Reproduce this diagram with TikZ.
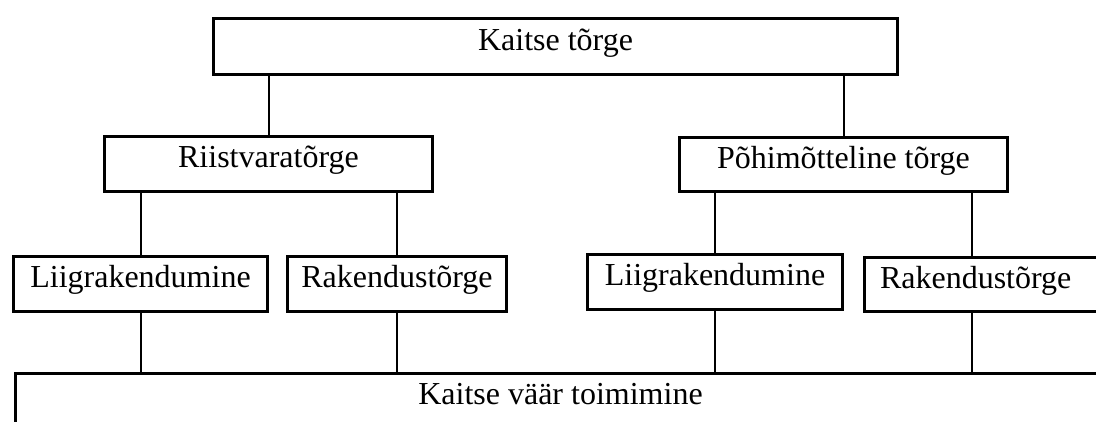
\documentclass[tikz,border=0pt]{standalone}
\usepackage{fontspec}
\setmainfont{Liberation Serif}

\begin{document}
\begin{tikzpicture}[x=1pt,y=-1pt,
  box/.style={draw,line width=3pt,inner sep=0pt,text height=21pt,text depth=14pt,
    font=\fontsize{32}{38}\selectfont},
  link/.style={line width=2pt}]

\clip (0,0) rectangle (1096,421);

\node[box,minimum width=684,minimum height=56] (top) at (555.5,46.5) {Kaitse tõrge};

\node[box,minimum width=328,minimum height=55] (riist) at (268.5,164) {Riistvaratõrge};
\node[box,minimum width=328,minimum height=54] (pohi) at (843.5,164.5) {Põhimõtteline tõrge};

\node[box,minimum width=254,minimum height=55] (lii1) at (140.5,284) {Liigrakendumine};
\node[box,minimum width=219,minimum height=55] (rak1) at (397,284) {Rakendustõrge};
\node[box,minimum width=255,minimum height=55] (lii2) at (715,282) {Liigrakendumine};
\node[box,anchor=west,minimum width=280,minimum height=54,inner xsep=16pt,
  text width=248pt,align=left] (rak2) at (862.5,284.5) {Rakendustõrge};
\coordinate (r2mid) at ([xshift=109.5pt]rak2.west);

\node[box,anchor=north west,minimum width=1091,minimum height=60,text depth=18pt]
  (bottom) at (13.5,371.5) {Kaitse väär toimimine};

\draw[link] (riist.north |- top.south) -- (riist.north);
\draw[link] (pohi.north |- top.south) -- (pohi.north);

\draw[link] (lii1.north |- riist.south) -- (lii1.north);
\draw[link] (rak1.north |- riist.south) -- (rak1.north);
\draw[link] (lii2.north |- pohi.south) -- (lii2.north);
\draw[link] (r2mid |- pohi.south) -- (r2mid |- rak2.north);

\draw[link] (lii1.south) -- (lii1.south |- bottom.north);
\draw[link] (rak1.south) -- (rak1.south |- bottom.north);
\draw[link] (lii2.south) -- (lii2.south |- bottom.north);
\draw[link] (r2mid |- rak2.south) -- (r2mid |- bottom.north);

\end{tikzpicture}
\end{document}
